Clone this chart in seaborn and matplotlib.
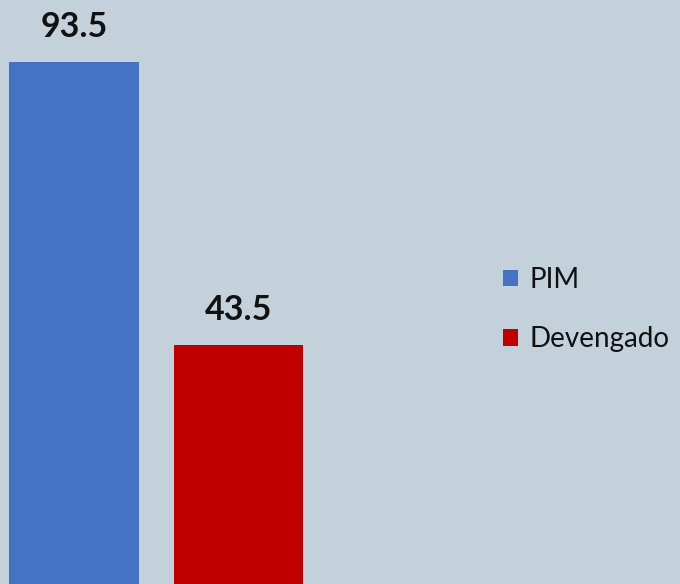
import matplotlib
matplotlib.use("Agg")
import matplotlib.pyplot as plt
import seaborn as sns
from matplotlib.patches import Patch

# data
categories = ['PIM', 'Devengado']
values = [93.5, 43.5]
colors = ['#4472c4', '#c00000']
labels = ['93.5', '43.5']

sns.set_theme(style='white')
plt.rcParams['font.family'] = ['Lato', 'DejaVu Sans']

bg = '#c2d1da'
fig = plt.figure(figsize=(6.8, 5.84), dpi=100, facecolor=bg)
ax = fig.add_axes([0, 0, 1, 1])
ax.set_facecolor(bg)

sns.barplot(x=categories, y=values, hue=categories, palette=colors,
            width=0.79, saturation=1, linewidth=0, legend=False, ax=ax)

for i, (v, t) in enumerate(zip(values, labels)):
    ax.text(i, v + 4.4, t, ha='center', va='baseline', fontsize=24.5,
            fontweight='bold', color='#111111')

ax.set_xlim(-0.45, 3.684)
ax.set_ylim(1.24, 104.4)
ax.axis('off')

handles = [Patch(facecolor=c, edgecolor='none') for c in colors]
ax.legend(handles, categories, loc='center left', bbox_to_anchor=(0.703, 0.47),
          frameon=False, fontsize=20, handlelength=0.55, handleheight=0.55,
          handletextpad=0.4, labelspacing=1.2, labelcolor='#111111')

fig.savefig('out.png', dpi=100, facecolor=bg)
